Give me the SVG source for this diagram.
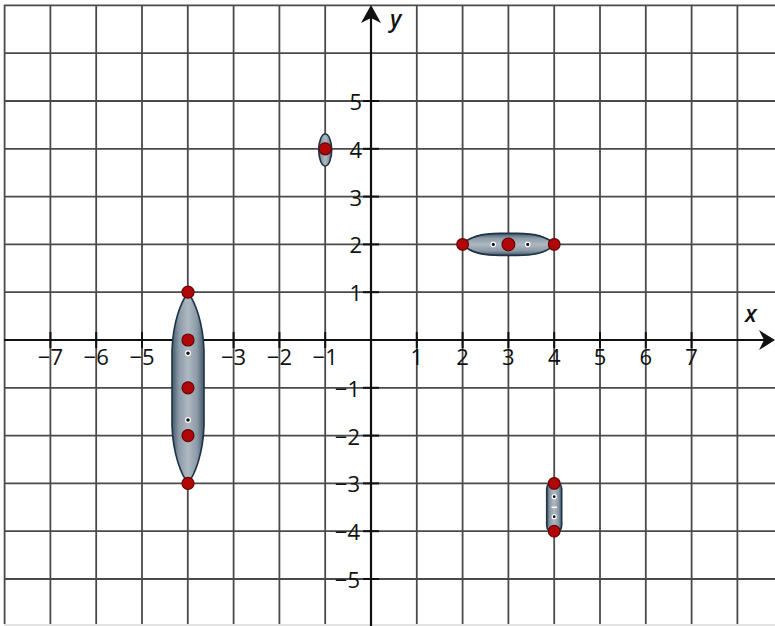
<svg xmlns="http://www.w3.org/2000/svg" width="775" height="626" viewBox="0 0 775 626">
<defs>
<style>
.grid line{stroke:#4a4a4a;stroke-width:1.8}
.axis{stroke:#111;stroke-width:2.2}
.tick{stroke:#111;stroke-width:2}
.lbl{font-family:"Open Sans","DejaVu Sans",sans-serif;font-size:22px;font-weight:500;fill:#111}
.xl{text-anchor:middle}
.yl{text-anchor:end;dominant-baseline:central}
.var{font-family:"Open Sans","DejaVu Sans",sans-serif;font-size:23px;font-style:italic;font-weight:600;fill:#111}
.body{stroke:#1f3347;stroke-width:1.6}
.red{fill:#b00808;stroke:#6a0000;stroke-width:1.2}
.blk{fill:#111;stroke:#ffffff;stroke-width:1.2}
</style>
<linearGradient id="gv" x1="0" y1="0" x2="1" y2="0">
<stop offset="0" stop-color="#44586a"/>
<stop offset="0.22" stop-color="#8c9ba8"/>
<stop offset="0.5" stop-color="#aeb8c1"/>
<stop offset="0.78" stop-color="#8c9ba8"/>
<stop offset="1" stop-color="#44586a"/>
</linearGradient>
<linearGradient id="gh" x1="0" y1="0" x2="0" y2="1">
<stop offset="0" stop-color="#44586a"/>
<stop offset="0.22" stop-color="#8c9ba8"/>
<stop offset="0.5" stop-color="#aeb8c1"/>
<stop offset="0.78" stop-color="#8c9ba8"/>
<stop offset="1" stop-color="#44586a"/>
</linearGradient>
</defs>
<rect width="775" height="626" fill="#ffffff"/>
<g id="grid" class="grid">
<line x1="4.6" y1="5" x2="4.6" y2="624"/>
<line x1="50.4" y1="5" x2="50.4" y2="624"/>
<line x1="96.2" y1="5" x2="96.2" y2="624"/>
<line x1="142" y1="5" x2="142" y2="624"/>
<line x1="187.8" y1="5" x2="187.8" y2="624"/>
<line x1="233.6" y1="5" x2="233.6" y2="624"/>
<line x1="279.4" y1="5" x2="279.4" y2="624"/>
<line x1="325.2" y1="5" x2="325.2" y2="624"/>
<line x1="416.8" y1="5" x2="416.8" y2="624"/>
<line x1="462.6" y1="5" x2="462.6" y2="624"/>
<line x1="508.4" y1="5" x2="508.4" y2="624"/>
<line x1="554.2" y1="5" x2="554.2" y2="624"/>
<line x1="600" y1="5" x2="600" y2="624"/>
<line x1="645.8" y1="5" x2="645.8" y2="624"/>
<line x1="691.6" y1="5" x2="691.6" y2="624"/>
<line x1="737.4" y1="5" x2="737.4" y2="624"/>
<line x1="4" y1="5.4" x2="775" y2="5.4"/>
<line x1="4" y1="53.2" x2="775" y2="53.2"/>
<line x1="4" y1="101" x2="775" y2="101"/>
<line x1="4" y1="148.8" x2="775" y2="148.8"/>
<line x1="4" y1="196.6" x2="775" y2="196.6"/>
<line x1="4" y1="244.4" x2="775" y2="244.4"/>
<line x1="4" y1="292.2" x2="775" y2="292.2"/>
<line x1="4" y1="387.8" x2="775" y2="387.8"/>
<line x1="4" y1="435.6" x2="775" y2="435.6"/>
<line x1="4" y1="483.4" x2="775" y2="483.4"/>
<line x1="4" y1="531.2" x2="775" y2="531.2"/>
<line x1="4" y1="579" x2="775" y2="579"/>
<line x1="4" y1="625" x2="775" y2="625" style="stroke:#c8c8c8;stroke-width:1"/>
</g>
<g id="axes">
<line class="axis" x1="4" y1="340" x2="766" y2="340"/>
<line class="axis" x1="371" y1="18" x2="371" y2="626"/>
<path d="M775,340 L759,330 L764,340 L759,350 Z" fill="#111"/>
<path d="M371,5 L361,23 L371,18 L381,23 Z" fill="#111"/>
<g class="tick">
<line x1="50.4" y1="332" x2="50.4" y2="348"/>
<line x1="96.2" y1="332" x2="96.2" y2="348"/>
<line x1="142" y1="332" x2="142" y2="348"/>
<line x1="233.6" y1="332" x2="233.6" y2="348"/>
<line x1="279.4" y1="332" x2="279.4" y2="348"/>
<line x1="325.2" y1="332" x2="325.2" y2="348"/>
<line x1="416.8" y1="332" x2="416.8" y2="348"/>
<line x1="462.6" y1="332" x2="462.6" y2="348"/>
<line x1="508.4" y1="332" x2="508.4" y2="348"/>
<line x1="554.2" y1="332" x2="554.2" y2="348"/>
<line x1="600" y1="332" x2="600" y2="348"/>
<line x1="645.8" y1="332" x2="645.8" y2="348"/>
<line x1="691.6" y1="332" x2="691.6" y2="348"/>
<line x1="363" y1="101" x2="379" y2="101"/>
<line x1="363" y1="148.8" x2="379" y2="148.8"/>
<line x1="363" y1="196.6" x2="379" y2="196.6"/>
<line x1="363" y1="244.4" x2="379" y2="244.4"/>
<line x1="363" y1="292.2" x2="379" y2="292.2"/>
<line x1="363" y1="387.8" x2="379" y2="387.8"/>
<line x1="363" y1="435.6" x2="379" y2="435.6"/>
<line x1="363" y1="483.4" x2="379" y2="483.4"/>
<line x1="363" y1="531.2" x2="379" y2="531.2"/>
<line x1="363" y1="579" x2="379" y2="579"/>
</g>
</g>
<g id="labels">
<text class="lbl xl" x="50.4" y="365">−7</text>
<text class="lbl xl" x="96.2" y="365">−6</text>
<text class="lbl xl" x="142" y="365">−5</text>
<text class="lbl xl" x="233.6" y="365">−3</text>
<text class="lbl xl" x="279.4" y="365">−2</text>
<text class="lbl xl" x="325.2" y="365">−1</text>
<text class="lbl xl" x="416.8" y="365">1</text>
<text class="lbl xl" x="462.6" y="365">2</text>
<text class="lbl xl" x="508.4" y="365">3</text>
<text class="lbl xl" x="554.2" y="365">4</text>
<text class="lbl xl" x="600" y="365">5</text>
<text class="lbl xl" x="645.8" y="365">6</text>
<text class="lbl xl" x="691.6" y="365">7</text>
<text class="lbl yl" x="362" y="101">5</text>
<text class="lbl yl" x="362" y="148.8">4</text>
<text class="lbl yl" x="362" y="196.6">3</text>
<text class="lbl yl" x="362" y="244.4">2</text>
<text class="lbl yl" x="362" y="292.2">1</text>
<text class="lbl yl" x="360" y="387.8">−1</text>
<text class="lbl yl" x="360" y="435.6">−2</text>
<text class="lbl yl" x="360" y="483.4">−3</text>
<text class="lbl yl" x="360" y="531.2">−4</text>
<text class="lbl yl" x="360" y="579">−5</text>
<text class="var" x="390" y="27">y</text>
<text class="var" x="745" y="322">x</text>
</g>
<g id="shapeA">
<path class="body" fill="url(#gv)" d="M188,292.2 C195,302 203,322 204,350 L204,426 C203,454 195,474 188,483.4 C181,474 173,454 172,426 L172,350 C173,322 181,302 188,292.2 Z"/>
<circle class="blk" cx="188" cy="353.3" r="2.4"/>
<circle class="blk" cx="188" cy="420" r="2.4"/>
<circle class="red" cx="188" cy="292.2" r="6"/>
<circle class="red" cx="188" cy="340" r="6"/>
<circle class="red" cx="188" cy="387.8" r="6"/>
<circle class="red" cx="188" cy="435.6" r="6"/>
<circle class="red" cx="188" cy="483.4" r="6"/>
</g>
<g id="shapeB">
<ellipse class="body" fill="url(#gv)" cx="325.2" cy="150" rx="6.5" ry="16"/>
<circle class="red" cx="325.2" cy="148.8" r="6"/>
</g>
<g id="shapeC">
<path class="body" fill="url(#gh)" d="M462.6,244.4 C470,236 485,233.4 500,233.4 L517,233.4 C532,233.4 547,236 554.2,244.4 C547,252.8 532,255.4 517,255.4 L500,255.4 C485,255.4 470,252.8 462.6,244.4 Z"/>
<circle class="blk" cx="493.3" cy="244.4" r="2.2"/>
<circle class="blk" cx="527.7" cy="244.4" r="2.2"/>
<circle class="red" cx="462.6" cy="244.4" r="5.8"/>
<circle class="red" cx="508.4" cy="244.4" r="6.4"/>
<circle class="red" cx="554.2" cy="244.4" r="5.8"/>
</g>
<g id="shapeD">
<rect class="body" fill="url(#gv)" x="546.7" y="481" width="15" height="52" rx="7.5"/>
<circle class="blk" cx="554.2" cy="496.7" r="2"/>
<line x1="551.5" y1="507.3" x2="557" y2="507.3" stroke="#ffffff" stroke-width="1.5"/>
<circle class="blk" cx="554.2" cy="516.7" r="2"/>
<circle class="red" cx="554.2" cy="483.4" r="5.8"/>
<circle class="red" cx="554.2" cy="531.2" r="5.8"/>
</g>
</svg>
